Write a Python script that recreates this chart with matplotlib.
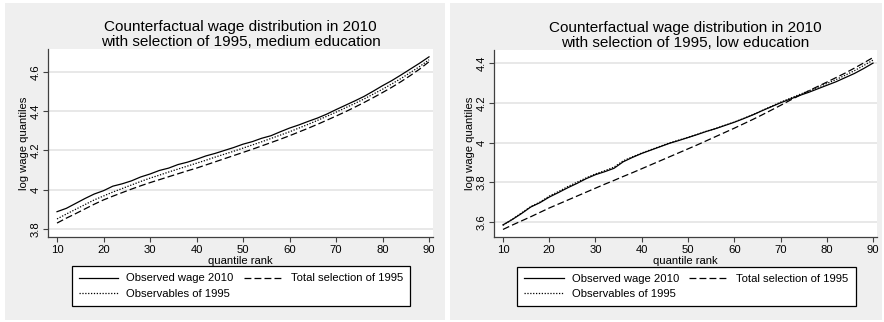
import matplotlib
matplotlib.use("Agg")
import matplotlib.pyplot as plt
from matplotlib.patches import Rectangle

plt.rcParams['font.family'] = ['Liberation Sans', 'DejaVu Sans']

# Quantile ranks (percent)
ranks = list(range(10, 91, 2))

# Medium education: log wage quantiles
med_observed = [3.888, 3.905, 3.930, 3.955, 3.978, 3.995, 4.018, 4.030, 4.045, 4.065,
                4.080, 4.098, 4.110, 4.128, 4.140, 4.155, 4.172, 4.185, 4.200, 4.215,
                4.232, 4.245, 4.262, 4.275, 4.295, 4.314, 4.330, 4.348, 4.365, 4.385,
                4.408, 4.430, 4.452, 4.475, 4.502, 4.530, 4.556, 4.585, 4.615, 4.645,
                4.677]
med_total_sel = [3.830, 3.855, 3.878, 3.902, 3.926, 3.948, 3.967, 3.985, 4.003, 4.020,
                 4.036, 4.051, 4.066, 4.081, 4.096, 4.110, 4.126, 4.142, 4.158, 4.174,
                 4.190, 4.206, 4.223, 4.240, 4.257, 4.275, 4.294, 4.313, 4.333, 4.354,
                 4.375, 4.397, 4.420, 4.444, 4.469, 4.495, 4.522, 4.551, 4.582, 4.615,
                 4.652]
med_observables = [3.851, 3.876, 3.900, 3.924, 3.948, 3.968, 3.988, 4.006, 4.024, 4.042,
                   4.059, 4.074, 4.090, 4.105, 4.120, 4.135, 4.150, 4.166, 4.181, 4.196,
                   4.212, 4.228, 4.244, 4.261, 4.278, 4.295, 4.314, 4.333, 4.353, 4.374,
                   4.395, 4.417, 4.439, 4.462, 4.487, 4.512, 4.539, 4.567, 4.597, 4.628,
                   4.662]

# Low education: log wage quantiles
low_observed = [3.585, 3.612, 3.642, 3.675, 3.697, 3.725, 3.748, 3.772, 3.794, 3.818,
                3.838, 3.853, 3.870, 3.903, 3.925, 3.945, 3.962, 3.979, 3.996, 4.010,
                4.025, 4.040, 4.056, 4.070, 4.086, 4.102, 4.120, 4.139, 4.160, 4.180,
                4.200, 4.218, 4.236, 4.252, 4.270, 4.288, 4.306, 4.327, 4.348, 4.373,
                4.400]
low_total_sel = [3.562, 3.584, 3.605, 3.626, 3.648, 3.670, 3.690, 3.710, 3.730, 3.750,
                 3.770, 3.790, 3.809, 3.829, 3.848, 3.868, 3.888, 3.908, 3.928, 3.948,
                 3.968, 3.988, 4.009, 4.030, 4.051, 4.072, 4.094, 4.116, 4.139, 4.163,
                 4.187, 4.212, 4.236, 4.259, 4.282, 4.304, 4.327, 4.350, 4.375, 4.401,
                 4.428]
low_observables = [3.583, 3.613, 3.645, 3.677, 3.700, 3.730, 3.753, 3.778, 3.800, 3.822,
                   3.842, 3.858, 3.876, 3.908, 3.928, 3.947, 3.964, 3.981, 3.998, 4.012,
                   4.026, 4.041, 4.057, 4.071, 4.087, 4.103, 4.121, 4.140, 4.161, 4.182,
                   4.203, 4.222, 4.241, 4.259, 4.278, 4.297, 4.317, 4.339, 4.362, 4.388,
                   4.415]

x_ticks = [10, 20, 30, 40, 50, 60, 70, 80, 90]
med_yticks = [3.8, 4.0, 4.2, 4.4, 4.6]
med_yticklabels = ["3.8", "4", "4.2", "4.4", "4.6"]
low_yticks = [3.6, 3.8, 4.0, 4.2, 4.4]
low_yticklabels = ["3.6", "3.8", "4", "4.2", "4.4"]

labels = ["Observed wage 2010", "Observables of 1995", "Total selection of 1995"]
titles = ["Counterfactual wage distribution in 2010\nwith selection of 1995, medium education",
          "Counterfactual wage distribution in 2010\nwith selection of 1995, low education"]

W, H = 884, 322
fig = plt.figure(figsize=(W / 100, H / 100), dpi=100)
fig.patch.set_facecolor("white")

PANEL_BG = "#efefef"
GRID = "#e6e6e6"
AXIS = "#404040"
SMALL = 8.1


def fx(px):
    return px / W


def fy(py):
    return 1 - py / H


# panel backgrounds
for x0, x1 in [(5, 445), (450, 882)]:
    fig.add_artist(Rectangle((fx(x0), fy(320)), fx(x1 - x0), (320 - 3) / H,
                             transform=fig.transFigure, facecolor=PANEL_BG,
                             edgecolor="none", zorder=0))

panels = [
    dict(box=(48, 433, 49, 237), ylim=(3.759, 4.717), yt=med_yticks, ytl=med_yticklabels,
         series=(med_observed, med_observables, med_total_sel), title=titles[0],
         legend=(78, 404, 264, 308)),
    dict(box=(494, 877, 50, 237), ylim=(3.524, 4.466), yt=low_yticks, ytl=low_yticklabels,
         series=(low_observed, low_observables, low_total_sel), title=titles[1],
         legend=(523, 850, 264, 309)),
]

for p in panels:
    l, r, t, b = p["box"]
    ax = fig.add_axes([fx(l), fy(b), fx(r - l), (b - t) / H])
    ax.set_facecolor("white")
    obs, obsv, tot = p["series"]
    h1, = ax.plot(ranks, obs, color="black", lw=0.9, ls="-", zorder=3)
    h2, = ax.plot(ranks, obsv, color="black", lw=0.9, ls=(0, (1, 1.3)), zorder=3)
    h3, = ax.plot(ranks, tot, color="black", lw=0.9, ls=(0, (5.5, 2.5)), zorder=3)
    ax.set_xlim(8.06, 90.86)
    ax.set_ylim(*p["ylim"])
    ax.set_xticks(x_ticks)
    ax.set_xticklabels([str(v) for v in x_ticks], fontsize=SMALL)
    ax.set_yticks(p["yt"])
    ax.set_yticklabels(p["ytl"], fontsize=SMALL, rotation=90, va="center")
    ax.yaxis.grid(True, color=GRID, lw=1.3)
    ax.set_axisbelow(True)
    for s in ("top", "right"):
        ax.spines[s].set_visible(False)
    for s in ("left", "bottom"):
        ax.spines[s].set_color(AXIS)
        ax.spines[s].set_linewidth(0.9)
    ax.tick_params(axis="both", length=3.5, width=0.8, color=AXIS, pad=2)
    ax.set_xlabel("quantile rank", fontsize=SMALL, labelpad=1)
    ax.set_ylabel("log wage quantiles", fontsize=SMALL, labelpad=1)
    ax.set_title(p["title"], fontsize=11, linespacing=1.05, pad=2)

    ll, lr, lt, lb = p["legend"]
    leg = ax.legend([h1, h2, h3], labels, ncol=2, loc="center",
                    bbox_to_anchor=(fx((ll + lr) / 2), fy((lt + lb) / 2)),
                    bbox_transform=fig.transFigure, fontsize=SMALL, frameon=True,
                    fancybox=False, edgecolor="black", framealpha=1,
                    handlelength=3.5, handletextpad=0.7, columnspacing=0.9,
                    labelspacing=0.45, borderpad=0.65, borderaxespad=0)
    leg.get_frame().set_linewidth(0.9)

fig.savefig("out.png", dpi=100, facecolor=fig.get_facecolor())
